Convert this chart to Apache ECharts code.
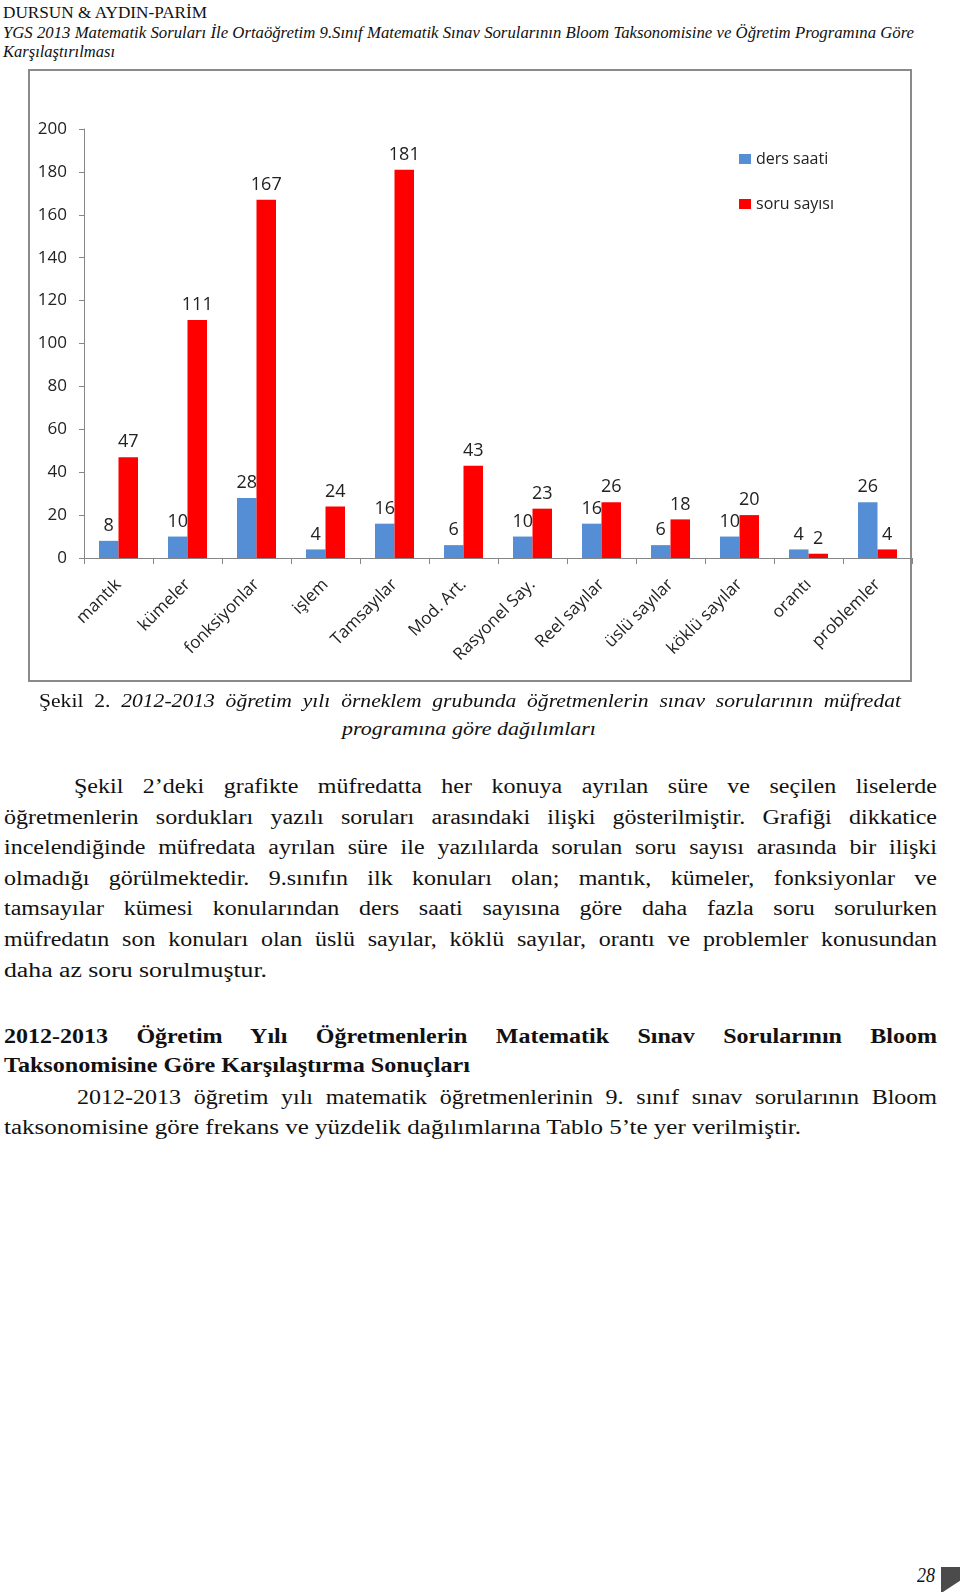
<!DOCTYPE html>
<html>
<head>
<meta charset="utf-8">
<script src="https://cdn.jsdelivr.net/npm/echarts@6/dist/echarts.min.js"></script>
<style>
  html, body { margin:0; padding:0; background:#fff; }
  body { width:960px; height:1592px; position:relative; overflow:hidden; font-family:"Liberation Serif", serif; color:#111; }
  .ln { position:absolute; white-space:nowrap; line-height:1; transform-origin:0 0; }
  .h { font-size:16px; }
  .it { font-style:italic; }
  .cap { font-size:18px; }
  .body { font-size:20px; }
  .bold { font-weight:bold; }
  #frame { position:absolute; left:28px; top:69px; width:884px; height:613px; border:2px solid #8a8a8a; box-sizing:border-box; }
  #chart { position:absolute; left:0; top:0; width:960px; height:700px; }
  #curl { position:absolute; left:941px; top:1567px; width:19px; height:25px; background:#4b4b4b; }
  #curl2 { position:absolute; left:941px; top:1567px; width:19px; height:25px; background:#fff; clip-path:polygon(10% 100%, 100% 55%, 100% 100%); }
</style>
</head>
<body>
<div class="ln h" style="left:3px;top:4.6px" data-w="204">DURSUN &amp; AYDIN-PARİM</div>
<div class="ln h it" style="left:3px;top:24.6px" data-w="910" data-j="1">YGS 2013 Matematik Soruları İle Ortaöğretim 9.Sınıf Matematik Sınav Sorularının Bloom Taksonomisine ve Öğretim Programına Göre</div>
<div class="ln h it" style="left:3px;top:43.6px" data-w="112">Karşılaştırılması</div>

<div id="frame"></div>
<div id="chart"></div>

<div class="ln cap" style="left:39px;top:691.9px" data-w="862" data-j="1"><span>Şekil 2.</span> <i>2012-2013 öğretim yılı örneklem grubunda öğretmenlerin sınav sorularının müfredat</i></div>
<div class="ln cap it" style="left:342px;top:719.9px" data-w="254">programına göre dağılımları</div>

<div class="ln body" style="left:74px;top:776.25px" data-w="863" data-j="1">Şekil 2’deki grafikte müfredatta her konuya ayrılan süre ve seçilen liselerde</div>
<div class="ln body" style="left:4px;top:807.25px" data-w="933" data-j="1">öğretmenlerin sordukları yazılı soruları arasındaki ilişki gösterilmiştir. Grafiği dikkatice</div>
<div class="ln body" style="left:4px;top:837.25px" data-w="933" data-j="1">incelendiğinde müfredata ayrılan süre ile yazılılarda sorulan soru sayısı arasında bir ilişki</div>
<div class="ln body" style="left:4px;top:868.25px" data-w="933" data-j="1">olmadığı görülmektedir. 9.sınıfın ilk konuları olan; mantık, kümeler, fonksiyonlar ve</div>
<div class="ln body" style="left:4px;top:898.25px" data-w="933" data-j="1">tamsayılar kümesi konularından ders saati sayısına göre daha fazla soru sorulurken</div>
<div class="ln body" style="left:4px;top:929.25px" data-w="933" data-j="1">müfredatın son konuları olan üslü sayılar, köklü sayılar, orantı ve problemler konusundan</div>
<div class="ln body" style="left:4px;top:960.25px" data-w="263">daha az soru sorulmuştur.</div>

<div class="ln body bold" style="left:4px;top:1026.25px" data-w="933" data-j="1">2012-2013 Öğretim Yılı Öğretmenlerin Matematik Sınav Sorularının Bloom</div>
<div class="ln body bold" style="left:4px;top:1055.25px" data-w="466">Taksonomisine Göre Karşılaştırma Sonuçları</div>
<div class="ln body" style="left:77px;top:1087.25px" data-w="860" data-j="1">2012-2013 öğretim yılı matematik öğretmenlerinin 9. sınıf sınav sorularının Bloom</div>
<div class="ln body" style="left:4px;top:1117.25px" data-w="797">taksonomisine göre frekans ve yüzdelik dağılımlarına Tablo 5’te yer verilmiştir.</div>

<div class="ln body it" style="left:917px;top:1565.25px" data-w="18">28</div>
<div id="curl"></div><div id="curl2"></div>

<script>
// ---- data ----
const categories = ['mantık', 'kümeler', 'fonksiyonlar', 'işlem', 'Tamsayılar', 'Mod. Art.', 'Rasyonel Say.', 'Reel sayılar', 'üslü sayılar', 'köklü sayılar', 'orantı', 'problemler'];
const dersSaati = [8, 10, 28, 4, 16, 6, 10, 16, 6, 10, 4, 26];
const soruSayisi = [47, 111, 167, 24, 181, 43, 23, 26, 18, 20, 2, 4];
const seriesNames = ['ders saati', 'soru sayısı'];
const yMin = 0, yMax = 200, yStep = 20;

// ---- text fitting ----
const MAX_STRETCH = 1.2;
function fitLines() {
  document.querySelectorAll('.ln').forEach(el => {
    el.style.transform = 'none';
    el.style.width = 'auto';
    el.style.whiteSpace = 'nowrap';
    el.style.textAlign = 'left';
    el.style.textAlignLast = 'auto';
    const W = parseFloat(el.dataset.w);
    const n = el.getBoundingClientRect().width;
    if (!n) return;
    if (el.dataset.j === '1') {
      let s = Math.min(MAX_STRETCH, W / n);
      el.style.whiteSpace = 'normal';
      el.style.width = (W / s + (s < MAX_STRETCH ? 1 : 0)) + 'px';
      el.style.textAlign = 'justify';
      el.style.textAlignLast = 'justify';
      el.style.transform = 'scaleX(' + s + ')';
    } else {
      el.style.transform = 'scaleX(' + (W / n) + ')';
    }
  });
}
fitLines();
if (document.fonts && document.fonts.ready) document.fonts.ready.then(fitLines);

// ---- chart ----
const chart = echarts.init(document.getElementById('chart'), null, { renderer: 'canvas' });
const axisGray = '#868686';
const chartFont = '"Open Sans", sans-serif';
chart.setOption({
  animation: false,
  backgroundColor: 'transparent',
  textStyle: { fontFamily: chartFont },
  grid: { left: 84, right: 48, top: 129, bottom: 142, containLabel: false },
  legend: {
    orient: 'vertical', left: 734, top: 145,
    icon: 'rect', itemWidth: 12, itemHeight: 10, itemGap: 27,
    textStyle: { fontSize: 16, color: '#222', fontFamily: chartFont, lineHeight: 18 },
    data: seriesNames
  },
  xAxis: {
    type: 'category', data: categories,
    axisLine: { lineStyle: { color: axisGray, width: 1 } },
    axisTick: { show: true, length: 6, lineStyle: { color: axisGray } },
    axisLabel: { interval: 0, rotate: 45, fontSize: 17, color: '#222', margin: 24, fontFamily: chartFont }
  },
  yAxis: {
    type: 'value', min: yMin, max: yMax, interval: yStep,
    axisLine: { show: true, lineStyle: { color: axisGray, width: 1 } },
    axisTick: { show: true, length: 5, lineStyle: { color: axisGray } },
    splitLine: { show: false },
    axisLabel: { fontSize: 17, color: '#222', margin: 17, fontFamily: chartFont }
  },
  series: [
    {
      name: seriesNames[0], type: 'bar', data: dersSaati,
      barWidth: 19.5, barGap: '0%',
      itemStyle: { color: '#558ED5' },
      label: { show: true, position: 'top', distance: 6, fontSize: 18, color: '#222', fontFamily: chartFont }
    },
    {
      name: seriesNames[1], type: 'bar', data: soruSayisi,
      barWidth: 19.5, barGap: '0%',
      itemStyle: { color: '#FF0000' },
      label: { show: true, position: 'top', distance: 6, fontSize: 18, color: '#222', fontFamily: chartFont }
    }
  ]
});
</script>
</body>
</html>
